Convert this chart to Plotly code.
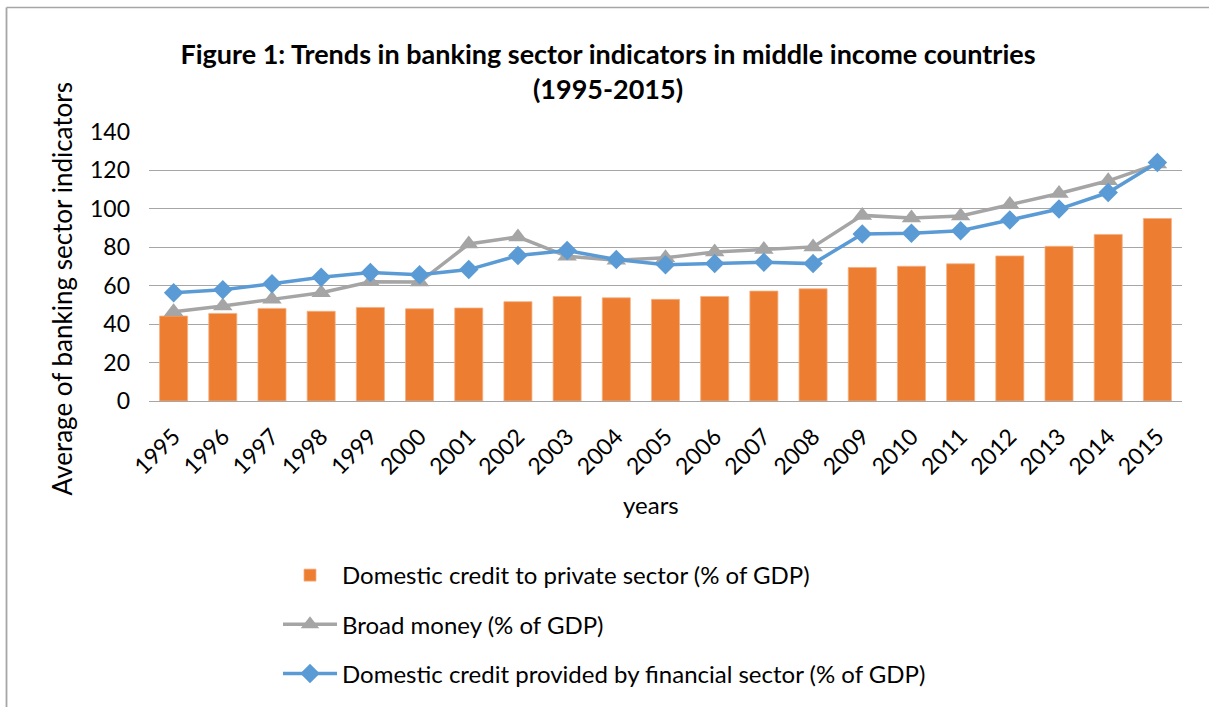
import plotly.graph_objects as go

years = [str(y) for y in range(1995, 2016)]
credit_private = [44.2, 45.6, 48.2, 46.7, 48.7, 48.0, 48.4, 51.7, 54.4, 53.7, 52.9,
                  54.4, 57.2, 58.4, 69.5, 70.1, 71.4, 75.5, 80.5, 86.7, 95.0]
broad_money = [46.5, 49.4, 52.9, 56.3, 62.0, 61.9, 81.7, 85.4, 75.3, 73.3, 74.5,
               77.6, 78.8, 80.2, 96.6, 95.2, 96.3, 102.3, 108.0, 114.6, 123.4]
credit_financial = [56.3, 57.9, 61.0, 64.4, 66.9, 65.7, 68.4, 75.7, 78.3, 73.6, 70.9,
                    71.5, 72.2, 71.5, 86.9, 87.3, 88.6, 94.2, 99.9, 108.5, 124.1]
y_ticks = [0, 20, 40, 60, 80, 100, 120, 140]

FONT = "Lato, 'Open Sans', sans-serif"
W, H = 1209, 707
L, R, T, B = 149, 1182, 132, 402

fig = go.Figure()
fig.add_trace(go.Bar(
    x=years, y=credit_private, name="Domestic credit to private sector (% of GDP)",
    marker=dict(color="#ED7D31", line=dict(color="#F4B183", width=0.8)),
    legendgroup="a",
))
fig.add_trace(go.Scatter(
    x=years, y=broad_money, name="Broad money (% of GDP)", mode="lines+markers",
    line=dict(color="#A5A5A5", width=3.5),
    marker=dict(symbol="triangle-up", size=17, color="#A5A5A5"),
    legendgroup="b",
))
fig.add_trace(go.Scatter(
    x=years, y=credit_financial, name="Domestic credit provided by financial sector (% of GDP)",
    mode="lines+markers",
    line=dict(color="#5B9BD5", width=3.5),
    marker=dict(symbol="diamond", size=15, color="#5B9BD5"),
    legendgroup="c",
))

def py(px):
    return (B - px) / (B - T)

def px_x(px):
    return (px - L) / (R - L)

fig.update_layout(
    width=W, height=H,
    margin=dict(l=L, r=W - R, t=T, b=H - B),
    paper_bgcolor="white", plot_bgcolor="white",
    font=dict(family=FONT, color="#000000"),
    bargap=0.43,
    showlegend=True,
    legend=dict(
        x=px_x(278), y=py(553), xanchor="left", yanchor="top",
        font=dict(size=24, family=FONT, color="#000000"),
        traceorder="grouped", tracegroupgap=15, itemwidth=54,
        bgcolor="rgba(0,0,0,0)",
    ),
    title=dict(
        text="<b>Figure 1: Trends in banking sector indicators in middle income countries<br>(1995-2015)</b>",
        x=608 / W, xanchor="center", y=1 - 64 / H, yanchor="middle",
        xref="container", yref="container",
        font=dict(size=27, family=FONT, color="#000000"),
    ),
    xaxis=dict(
        type="category", range=[-0.5, len(years) - 0.5], tickangle=-45, showgrid=False,
        showline=True, linecolor="#A6A6A6", linewidth=1.3,
        ticks="", tickfont=dict(size=23, family=FONT, color="#000000"),
        ticklabelstandoff=12,
    ),
    yaxis=dict(
        range=[0, 140], tickvals=y_ticks, showgrid=True, gridcolor="#A6A6A6", gridwidth=1.3,
        showline=False, zeroline=False, ticks="",
        tickfont=dict(size=23, family=FONT, color="#000000"),
        ticklabelstandoff=18,
    ),
    annotations=[
        dict(text="Average of banking sector indicators", xref="paper", yref="paper",
             x=px_x(62), y=py(290), xanchor="center", yanchor="middle",
             textangle=-90, showarrow=False, font=dict(size=26, family=FONT, color="#000000")),
        dict(text="years", xref="paper", yref="paper",
             x=px_x(651), y=py(506), xanchor="center", yanchor="middle",
             showarrow=False, font=dict(size=24, family=FONT, color="#000000")),
    ],
    shapes=[
        dict(type="line", xref="paper", yref="paper", x0=px_x(6.5), x1=px_x(1215),
             y0=py(7), y1=py(7), line=dict(color="#A6A6A6", width=1.5)),
        dict(type="line", xref="paper", yref="paper", x0=px_x(6.5), x1=px_x(6.5),
             y0=py(7), y1=py(715), line=dict(color="#A6A6A6", width=1.8)),
    ],
)

fig.write_html("out.html")
